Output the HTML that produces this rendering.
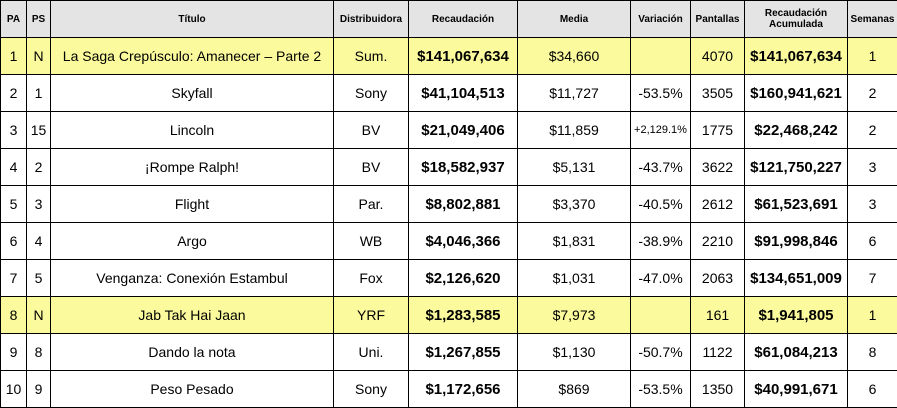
<!DOCTYPE html>
<html><head><meta charset="utf-8"><style>
body{margin:0;width:897px;height:408px;background:#fff;overflow:hidden;font-family:"Liberation Sans",Arial,sans-serif}
table{position:absolute;left:0;top:0;border-collapse:collapse;table-layout:fixed;width:897px}
td,th{border:1px solid #000;text-align:center;padding:0;height:36px;font-size:14px;color:#000;overflow:hidden;white-space:nowrap}
th{background:#e4e4e4;font-size:10px;font-weight:bold;line-height:11px}
tr.y td{background:#fbfb9d}
td.b{font-weight:bold;font-size:15px}
td.s{font-size:11px}
</style></head><body>
<table>
<colgroup><col style="width:26px"><col style="width:24px"><col style="width:283px"><col style="width:75px"><col style="width:109px"><col style="width:113px"><col style="width:60px"><col style="width:54px"><col style="width:103px"><col style="width:50px"></colgroup>
<tr><th>PA</th><th>PS</th><th>Título</th><th>Distribuidora</th><th>Recaudación</th><th>Media</th><th>Variación</th><th>Pantallas</th><th>Recaudación<br>Acumulada</th><th>Semanas</th></tr>
<tr class="y"><td>1</td><td>N</td><td>La Saga Crepúsculo: Amanecer – Parte 2</td><td>Sum.</td><td class="b">$141,067,634</td><td>$34,660</td><td></td><td>4070</td><td class="b">$141,067,634</td><td>1</td></tr>
<tr><td>2</td><td>1</td><td>Skyfall</td><td>Sony</td><td class="b">$41,104,513</td><td>$11,727</td><td>-53.5%</td><td>3505</td><td class="b">$160,941,621</td><td>2</td></tr>
<tr><td>3</td><td>15</td><td>Lincoln</td><td>BV</td><td class="b">$21,049,406</td><td>$11,859</td><td class="s">+2,129.1%</td><td>1775</td><td class="b">$22,468,242</td><td>2</td></tr>
<tr><td>4</td><td>2</td><td>¡Rompe Ralph!</td><td>BV</td><td class="b">$18,582,937</td><td>$5,131</td><td>-43.7%</td><td>3622</td><td class="b">$121,750,227</td><td>3</td></tr>
<tr><td>5</td><td>3</td><td>Flight</td><td>Par.</td><td class="b">$8,802,881</td><td>$3,370</td><td>-40.5%</td><td>2612</td><td class="b">$61,523,691</td><td>3</td></tr>
<tr><td>6</td><td>4</td><td>Argo</td><td>WB</td><td class="b">$4,046,366</td><td>$1,831</td><td>-38.9%</td><td>2210</td><td class="b">$91,998,846</td><td>6</td></tr>
<tr><td>7</td><td>5</td><td>Venganza: Conexión Estambul</td><td>Fox</td><td class="b">$2,126,620</td><td>$1,031</td><td>-47.0%</td><td>2063</td><td class="b">$134,651,009</td><td>7</td></tr>
<tr class="y"><td>8</td><td>N</td><td>Jab Tak Hai Jaan</td><td>YRF</td><td class="b">$1,283,585</td><td>$7,973</td><td></td><td>161</td><td class="b">$1,941,805</td><td>1</td></tr>
<tr><td>9</td><td>8</td><td>Dando la nota</td><td>Uni.</td><td class="b">$1,267,855</td><td>$1,130</td><td>-50.7%</td><td>1122</td><td class="b">$61,084,213</td><td>8</td></tr>
<tr><td>10</td><td>9</td><td>Peso Pesado</td><td>Sony</td><td class="b">$1,172,656</td><td>$869</td><td>-53.5%</td><td>1350</td><td class="b">$40,991,671</td><td>6</td></tr>
</table>
</body></html>
